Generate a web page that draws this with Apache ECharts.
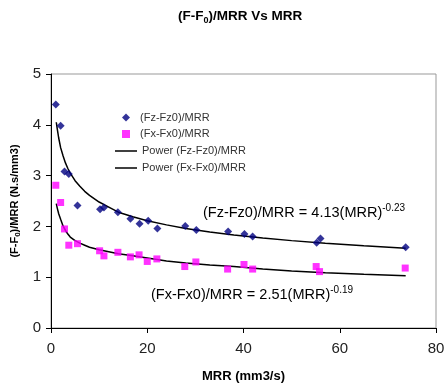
<!DOCTYPE html>
<html>
<head>
<meta charset="utf-8">
<script src="https://cdn.jsdelivr.net/npm/echarts@6/dist/echarts.min.js"></script>
<style>
html,body{margin:0;padding:0;background:#fff;}
#chart{width:448px;height:388px;}
</style>
</head>
<body>
<div id="chart"></div>
<script>
// Data
var fzX = [1.0, 2.0, 2.8, 3.7, 5.5, 10.2, 11.0, 13.9, 16.5, 18.4, 20.2, 22.1, 27.9, 30.2, 36.8, 40.2, 41.9, 55.2, 56.0, 73.7];
var fzY = [4.40, 3.98, 3.08, 3.03, 2.41, 2.34, 2.37, 2.28, 2.15, 2.05, 2.11, 1.96, 2.01, 1.93, 1.90, 1.85, 1.80, 1.68, 1.76, 1.59];
var fxX = [1.0, 2.0, 2.8, 3.7, 5.5, 10.1, 11.0, 13.9, 16.5, 18.3, 20.0, 22.0, 27.8, 30.1, 36.7, 40.1, 41.9, 55.1, 55.8, 73.6];
var fxY = [2.81, 2.47, 1.95, 1.63, 1.66, 1.52, 1.42, 1.49, 1.40, 1.44, 1.31, 1.36, 1.21, 1.30, 1.16, 1.25, 1.16, 1.21, 1.11, 1.18];
// Trend curves
var trendX = [1.1, 1.3, 1.6, 2, 2.5, 3, 3.5, 4, 5, 6, 7, 8, 10, 12, 14, 17, 20, 24, 28, 33, 38, 44, 50, 57, 65, 73.7];
var fzTrendY = [4.05, 3.92, 3.74, 3.55, 3.39, 3.25, 3.14, 3.05, 2.90, 2.79, 2.69, 2.61, 2.48, 2.38, 2.28, 2.19, 2.11, 2.03, 1.96, 1.89, 1.83, 1.77, 1.72, 1.67, 1.62, 1.57];
var fxTrendY = [2.45, 2.36, 2.25, 2.14, 2.01, 1.92, 1.85, 1.79, 1.72, 1.67, 1.63, 1.59, 1.54, 1.50, 1.46, 1.42, 1.38, 1.32, 1.28, 1.24, 1.21, 1.16, 1.12, 1.09, 1.06, 1.03];
var xTicks = [0, 20, 40, 60, 80];
var yTicks = [0, 1, 2, 3, 4, 5];
var seriesNames = ['(Fz-Fz0)/MRR', '(Fx-Fx0)/MRR', 'Power (Fz-Fz0)/MRR', 'Power (Fx-Fx0)/MRR'];
var eqFz = ['(Fz-Fz0)/MRR = 4.13(MRR)', '-0.23'];
var eqFx = ['(Fx-Fx0)/MRR = 2.51(MRR)', '-0.19'];

function pairs(xs, ys) { return xs.map(function (x, i) { return [x, ys[i]]; }); }

var FONT = 'Arial, "Liberation Sans", sans-serif';
var chart = echarts.init(document.getElementById('chart'), null, {renderer: 'canvas'});
chart.setOption({
  animation: false,
  textStyle: {fontFamily: FONT},
  title: {
    text: '{a|(F-F}{s|0}{a|)/MRR Vs MRR}',
    left: 173, top: 2,
    textStyle: {
      rich: {
        a: {fontFamily: FONT, fontSize: 13.5, fontWeight: 'bold', color: '#000', lineHeight: 18, verticalAlign: 'middle'},
        s: {fontFamily: FONT, fontSize: 9, fontWeight: 'bold', color: '#000', lineHeight: 18, verticalAlign: 'bottom'}
      }
    }
  },
  legend: [{
    orient: 'vertical', left: 122, top: 111, padding: 0,
    itemWidth: 8, itemHeight: 8, itemGap: 3.5,
    data: [{name: seriesNames[0], icon: 'diamond'}, {name: seriesNames[1], icon: 'rect'}],
    textStyle: {fontFamily: FONT, fontSize: 11, color: '#333', lineHeight: 13, padding: [0, 0, 0, 5]}
  }, {
    orient: 'vertical', left: 115, top: 144.5, padding: 0,
    itemWidth: 22, itemHeight: 1.5, itemGap: 4,
    data: [{name: seriesNames[2], icon: 'rect'}, {name: seriesNames[3], icon: 'rect'}],
    textStyle: {fontFamily: FONT, fontSize: 11, color: '#333', lineHeight: 13}
  }],
  grid: {left: 51, right: 12, top: 74, bottom: 60, show: true, borderColor: '#999', borderWidth: 1, backgroundColor: '#fff'},
  xAxis: {
    type: 'value', min: xTicks[0], max: xTicks[xTicks.length - 1], interval: 20,
    name: 'MRR (mm3/s)', nameLocation: 'middle', nameGap: 42,
    nameTextStyle: {fontFamily: FONT, fontSize: 13, fontWeight: 'bold', color: '#000'},
    axisLine: {show: true, onZero: false, lineStyle: {color: '#000', width: 1}},
    axisTick: {show: true, inside: false, length: 5, lineStyle: {color: '#000'}},
    axisLabel: {fontFamily: FONT, fontSize: 15, color: '#222', margin: 13},
    splitLine: {show: false}
  },
  yAxis: {
    type: 'value', min: yTicks[0], max: yTicks[yTicks.length - 1], interval: 1,
    name: '{a|(F-F}{s|0}{a|)/MRR (N.s/mm3)}', nameLocation: 'middle', nameGap: 26,
    nameTextStyle: {
      rich: {
        a: {fontFamily: FONT, fontSize: 11, fontWeight: 'bold', color: '#000', lineHeight: 14, verticalAlign: 'middle'},
        s: {fontFamily: FONT, fontSize: 8, fontWeight: 'bold', color: '#000', lineHeight: 14, verticalAlign: 'bottom'}
      }
    },
    axisLine: {show: true, onZero: false, lineStyle: {color: '#000', width: 1}},
    axisTick: {show: true, inside: false, length: 5, lineStyle: {color: '#000'}},
    axisLabel: {fontFamily: FONT, fontSize: 15, color: '#222', margin: 10},
    splitLine: {show: false}
  },
  series: [
    {name: seriesNames[0], type: 'scatter', symbol: 'diamond', symbolSize: 8,
     itemStyle: {color: '#000080'}, data: pairs(fzX, fzY), z: 5},
    {name: seriesNames[1], type: 'scatter', symbol: 'rect', symbolSize: 7,
     itemStyle: {color: '#FF00FF'}, data: pairs(fxX, fxY), z: 5},
    {name: seriesNames[2], type: 'line', symbol: 'none', showSymbol: false, smooth: false,
     lineStyle: {color: '#000', width: 1.5}, itemStyle: {color: '#000'}, data: pairs(trendX, fzTrendY), z: 3},
    {name: seriesNames[3], type: 'line', symbol: 'none', showSymbol: false, smooth: false,
     lineStyle: {color: '#000', width: 1.5}, itemStyle: {color: '#000'}, data: pairs(trendX, fxTrendY), z: 3}
  ],
  graphic: [
    {type: 'text', left: 203, top: 203, z: 10,
     style: {text: '{a|' + eqFz[0] + '}{s|' + eqFz[1] + '}',
       rich: {
         a: {fontFamily: FONT, fontSize: 14.5, fill: '#000', lineHeight: 20, verticalAlign: 'middle'},
         s: {fontFamily: FONT, fontSize: 10, fill: '#000', lineHeight: 20, verticalAlign: 'top'}
       }}},
    {type: 'text', left: 151, top: 285, z: 10,
     style: {text: '{a|' + eqFx[0] + '}{s|' + eqFx[1] + '}',
       rich: {
         a: {fontFamily: FONT, fontSize: 14.5, fill: '#000', lineHeight: 20, verticalAlign: 'middle'},
         s: {fontFamily: FONT, fontSize: 10, fill: '#000', lineHeight: 20, verticalAlign: 'top'}
       }}}
  ]
});
</script>
</body>
</html>
